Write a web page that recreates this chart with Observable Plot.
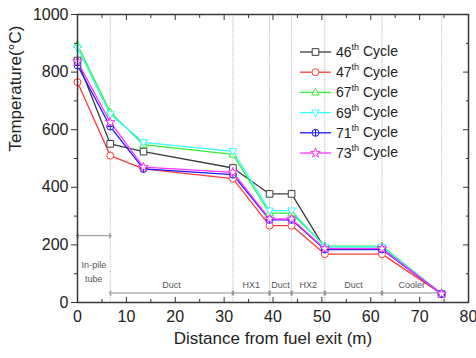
<!DOCTYPE html>
<html>
<head>
<meta charset="utf-8">
<script src="https://cdn.jsdelivr.net/npm/d3@7"></script>
<script src="https://cdn.jsdelivr.net/npm/@observablehq/plot@0.6"></script>
<style>
  body { margin: 0; background: #fff; }
  #chart { width: 476px; height: 358px; }
</style>
</head>
<body>
<div id="chart"></div>
<script>
// Measuring stations along the loop (m from fuel exit)
const distance = [0, 6.7, 13.5, 31.8, 39.3, 43.8, 50.6, 62.3, 74.5];

// Temperature (°C) at each station, one array per operating cycle
const cycles = ["46", "47", "67", "69", "71", "73"];
const cycle46 = [840, 551, 524, 467, 377, 377, 188, 188, 30];
const cycle47 = [765, 510, 464, 430, 267, 267, 168, 168, 30];
const cycle67 = [895, 661, 548, 514, 310, 310, 196, 196, 30];
const cycle69 = [883, 653, 556, 525, 319, 319, 193, 193, 30];
const cycle71 = [823, 611, 464, 444, 287, 287, 184, 184, 30];
const cycle73 = [837, 626, 470, 452, 290, 290, 187, 187, 30];
const series = [cycle46, cycle47, cycle67, cycle69, cycle71, cycle73];

// Loop components between stations
const sectionStart = [0, 6.7, 31.8, 39.3, 43.8, 50.6, 62.3];
const sectionEnd = [6.7, 31.8, 39.3, 43.8, 50.6, 62.3, 74.5];
const sectionNames = ["In-pile\ntube", "Duct", "HX1", "Duct", "HX2", "Duct", "Cooler"];

// Axis ticks
const xTicks = [0, 10, 20, 30, 40, 50, 60, 70, 80];
const xMinor = [5, 15, 25, 35, 45, 55, 65, 75];
const yTicks = [0, 200, 400, 600, 800, 1000];
const yMinor = [100, 300, 500, 700, 900];

const colors = ["#3c3c3c", "#ff3a3a", "#33ee33", "#33ffff", "#1a1aff", "#ff33ff"];

// Marker shapes (r derived from the area Plot passes in)
const rad = s => Math.sqrt(s / Math.PI);
const square = { draw(c, s) { const r = rad(s) * 0.95; c.moveTo(-r, -r); c.lineTo(r, -r); c.lineTo(r, r); c.lineTo(-r, r); c.closePath(); } };
const circle = { draw(c, s) { const r = rad(s); c.moveTo(r, 0); c.arc(0, 0, r, 0, 2 * Math.PI); } };
const triUp = { draw(c, s) { const r = rad(s) * 1.15; c.moveTo(0, -r); c.lineTo(r * 0.95, r * 0.65); c.lineTo(-r * 0.95, r * 0.65); c.closePath(); } };
const triDown = { draw(c, s) { const r = rad(s) * 1.15; c.moveTo(0, r); c.lineTo(r * 0.95, -r * 0.65); c.lineTo(-r * 0.95, -r * 0.65); c.closePath(); } };
const circlePlus = { draw(c, s) { const r = rad(s); c.moveTo(r, 0); c.arc(0, 0, r, 0, 2 * Math.PI); c.moveTo(-r, 0); c.lineTo(r, 0); c.moveTo(0, -r); c.lineTo(0, r); } };
const star = { draw(c, s) { d3.symbolStar.draw(c, s * 0.75); } };
const symbols = [square, circle, triUp, triDown, circlePlus, star];

const rows = cycles.flatMap((cyc, k) => distance.map((d, i) => ({ cycle: cyc, d, t: series[k][i] })));
const idx = d3.range(sectionNames.length);

const font = "'Liberation Sans', Arial, sans-serif";

const plot = Plot.plot({
  width: 476,
  height: 358,
  marginLeft: 77,
  marginRight: 8,
  marginTop: 14,
  marginBottom: 56,
  style: { fontFamily: font, background: "#fff", color: "#222" },
  x: { domain: [0, 80] },
  y: { domain: [0, 1000] },
  color: { domain: cycles, range: colors },
  marks: [
    Plot.ruleX(sectionEnd, { stroke: "#b4b4b4", strokeWidth: 1, strokeDasharray: "1.2,1.2" }),
    Plot.link(idx, {
      x1: i => sectionStart[i], x2: i => sectionEnd[i],
      y1: i => (i === 0 ? 232 : 33), y2: i => (i === 0 ? 232 : 33),
      stroke: "#8c8c8c", strokeWidth: 1, markerStart: "arrow-reverse", markerEnd: "arrow"
    }),
    Plot.text(idx, {
      x: i => (sectionStart[i] + sectionEnd[i]) / 2,
      y: i => (i === 0 ? 112 : 65),
      text: i => sectionNames[i],
      fill: "#555", fontSize: 9, lineHeight: 1.6
    }),
    Plot.line(rows, { x: "d", y: "t", z: "cycle", stroke: "cycle", strokeWidth: 1.3 }),
    ...cycles.map((cyc, k) => Plot.dot(rows.filter(r => r.cycle === cyc), {
      x: "d", y: "t", r: 3.5, symbol: symbols[k], stroke: colors[k], fill: "#fff", strokeWidth: 1
    })),
    Plot.frame({ stroke: "#3a3a3a", strokeWidth: 1.5 }),
    Plot.axisX(xTicks, { anchor: "bottom", tickSize: 0, tickPadding: 8, fontSize: 16, label: null }),
    Plot.axisX(xTicks, { anchor: "bottom", tickSize: -5, text: null, label: null, stroke: "#333" }),
    Plot.axisX(xMinor, { anchor: "bottom", tickSize: -3, text: null, label: null, stroke: "#333" }),
    Plot.axisX(xTicks, { anchor: "top", tickSize: -5, text: null, label: null, stroke: "#333" }),
    Plot.axisX(xMinor, { anchor: "top", tickSize: -3, text: null, label: null, stroke: "#333" }),
    Plot.axisY(yTicks, { anchor: "left", tickSize: 6, tickPadding: 3, fontSize: 16, tickFormat: "d", label: null, stroke: "#333" }),
    Plot.axisY(yMinor, { anchor: "left", tickSize: 3, text: null, label: null, stroke: "#333" }),
    Plot.axisY(yTicks, { anchor: "right", tickSize: -6, text: null, label: null, stroke: "#333" }),
    Plot.axisY(yMinor, { anchor: "right", tickSize: -3, text: null, label: null, stroke: "#333" }),
    Plot.text(["Distance from fuel exit (m)"], { frameAnchor: "bottom", dy: 41, fontSize: 17, fill: "#222" }),
    Plot.text(["Temperature(°C)"], { frameAnchor: "left", dx: -62, dy: -7, rotate: -90, fontSize: 17, fill: "#222" })
  ]
});

// Legend inside the plotting area
const svg = d3.select(plot);
const legend = svg.append("g")
  .attr("transform", "translate(300,52)")
  .attr("font-family", font)
  .attr("text-anchor", "start");
cycles.forEach((cyc, k) => {
  const g = legend.append("g").attr("transform", `translate(0,${k * 20.2})`);
  g.append("line").attr("x1", 0).attr("x2", 31).attr("stroke", colors[k]).attr("stroke-width", 1.3);
  g.append("path").attr("transform", "translate(15.5,0)")
    .attr("d", d3.symbol(symbols[k], Math.PI * 3.5 * 3.5)())
    .attr("fill", "#fff").attr("stroke", colors[k]);
  const t = g.append("text").attr("x", 36).attr("dy", "0.35em").attr("font-size", 14).attr("fill", "#222");
  t.append("tspan").text(cyc);
  t.append("tspan").attr("font-size", 9).attr("dy", "-0.75em").text("th");
  t.append("tspan").attr("dy", "0.45em").text(" Cycle");
});

document.getElementById("chart").appendChild(plot);
</script>
</body>
</html>
